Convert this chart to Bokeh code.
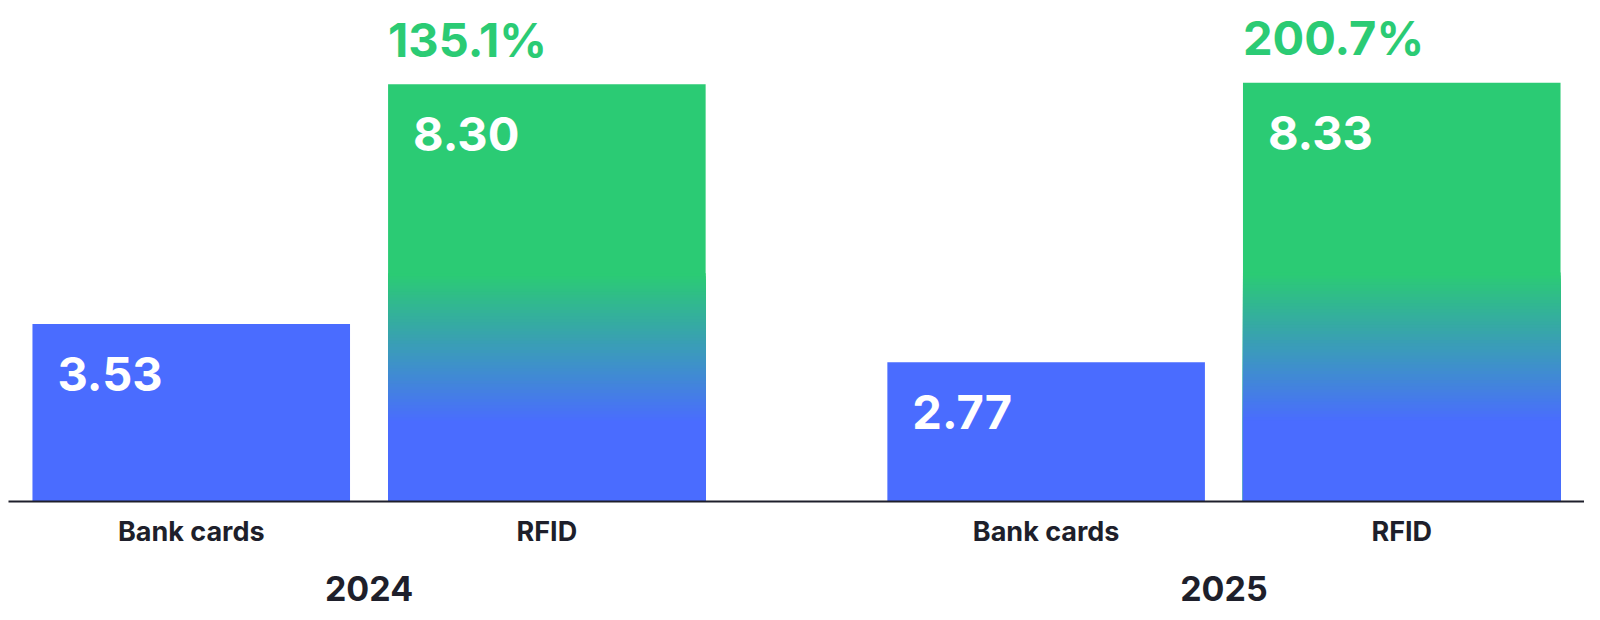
from bokeh.plotting import figure
from bokeh.models import FactorRange, Range1d, CategoricalAxis
from bokeh.core.properties import value
from bokeh.embed import file_html
from bokeh.resources import INLINE

# ---- data ----
years = ["2024", "2025"]
categories = ["Bank cards", "RFID"]
bank_cards = [3.53, 2.77]
rfid = [8.30, 8.33]
growth_labels = ["135.1%", "200.7%"]

# ---- style ----
BLUE = "#4A6CFF"
GREEN = "#2BCB74"
DARK = "#1E1F2B"
FONT = "Inter"
BAR_W = 0.893
GRAD_LO, GRAD_HI = 0.194, 0.547  # fraction of bar height where gradient runs

factors = [(y, c) for y in years for c in categories]
x_range = FactorRange(*factors, factor_padding=0.0, group_padding=0.404,
                      range_padding=0.0063, range_padding_units="percent")

p = figure(frame_width=1576, frame_height=493, x_range=x_range,
           y_range=Range1d(0, 9.805),
           output_backend="svg", toolbar_location=None,
           min_border_left=8, min_border_right=0, min_border_top=8,
           min_border_bottom=114, background_fill_color="white",
           border_fill_color="white")
p.outline_line_color = None
p.grid.visible = False
p.yaxis.visible = False


def hex2rgb(h):
    h = h.lstrip("#")
    return tuple(int(h[i:i + 2], 16) for i in (0, 2, 4))


def mix(c1, c2, t):
    a, b = hex2rgb(c1), hex2rgb(c2)
    return "#%02x%02x%02x" % tuple(round(a[i] + (b[i] - a[i]) * t) for i in range(3))


# Bank cards bars (solid blue)
bank_x = [(y, "Bank cards") for y in years]
p.vbar(x=bank_x, top=bank_cards, width=BAR_W, bottom=0, fill_color=BLUE,
       line_color=None)

# RFID bars with vertical green -> blue gradient (layered strips)
rfid_x = [(y, "RFID") for y in years]
p.vbar(x=rfid_x, top=rfid, width=BAR_W, bottom=0, fill_color=GREEN,
       line_color=None)
N = 48
for k in range(N + 1):
    t = k / N
    tops = [v * (GRAD_HI - (GRAD_HI - GRAD_LO) * t) for v in rfid]
    p.vbar(x=rfid_x, top=tops, width=BAR_W, bottom=0,
           fill_color=mix(GREEN, BLUE, t), line_color=None)

# value labels inside bars
lab_x = [(y, c, -BAR_W / 2) for y in years for c in categories]
lab_y = []
lab_t = []
for i, y in enumerate(years):
    lab_y += [bank_cards[i], rfid[i]]
    lab_t += ["%.2f" % bank_cards[i], "%.2f" % rfid[i]]
p.text(x=lab_x, y=lab_y, text=lab_t, x_offset=25, y_offset=50,
       text_align="left", text_baseline="middle", text_color="white",
       text_font=value(FONT), text_font_style="bold", text_font_size="47px")

# growth labels above RFID bars
g_x = [(y, "RFID", -BAR_W / 2) for y in years]
p.text(x=g_x, y=rfid, text=growth_labels, x_offset=0, y_offset=-45,
       text_align="left", text_baseline="middle", text_color=GREEN,
       text_font=value(FONT), text_font_style="bold", text_font_size="47px")

# main axis: baseline + category labels
ax = p.xaxis[0]
ax.axis_line_color = DARK
ax.axis_line_width = 2
ax.major_tick_line_color = None
ax.minor_tick_line_color = None
ax.major_tick_out = 0
ax.major_tick_in = 0
ax.major_label_standoff = 13
ax.major_label_text_font = FONT
ax.major_label_text_font_style = "bold"
ax.major_label_text_font_size = "27px"
ax.major_label_text_color = DARK
ax.group_text_color = None
ax.separator_line_color = None

# second axis below: year (group) labels with wider spacing
ax2 = CategoricalAxis()
ax2.axis_line_color = None
ax2.major_tick_line_color = None
ax2.minor_tick_line_color = None
ax2.major_tick_out = 0
ax2.major_tick_in = 0
ax2.major_label_text_color = None
ax2.major_label_standoff = 25
ax2.group_text_font = FONT
ax2.group_text_font_style = "bold"
ax2.group_text_font_size = "34px"
ax2.group_text_color = DARK
ax2.separator_line_color = None
p.add_layout(ax2, "below")

open("out.html", "w").write(file_html(p, INLINE))
